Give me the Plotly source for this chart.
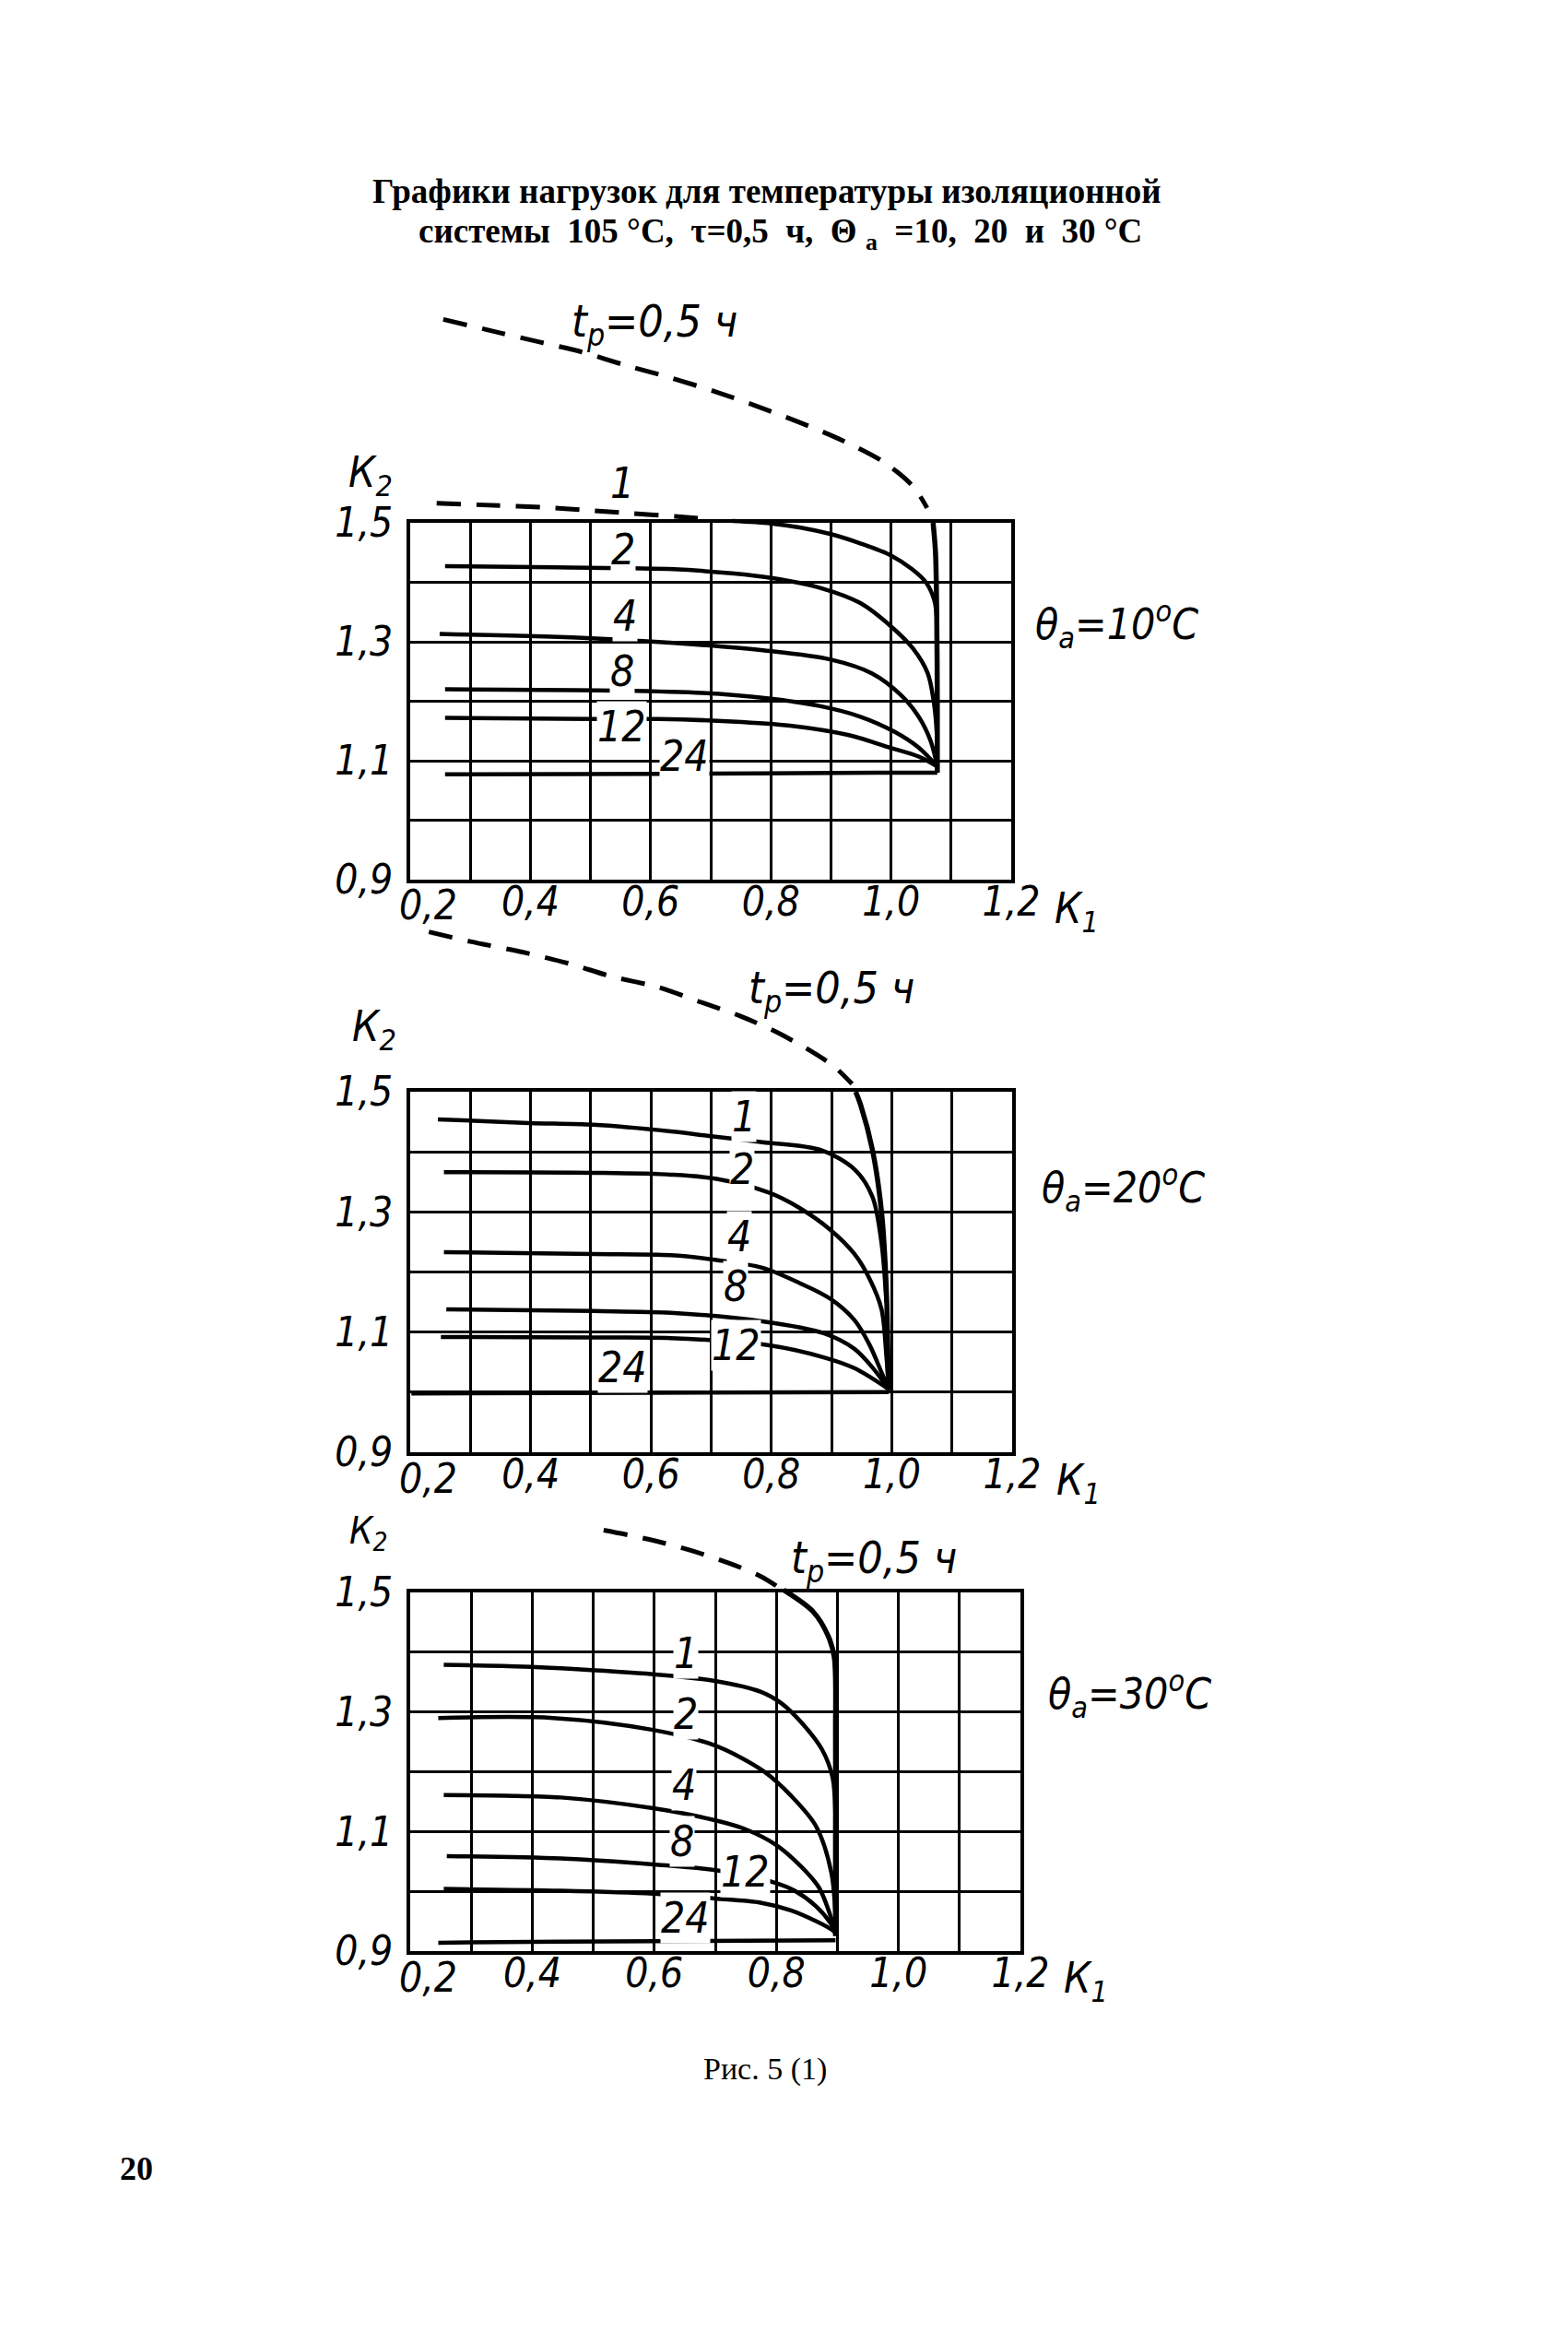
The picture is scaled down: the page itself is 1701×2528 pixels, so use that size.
import plotly.graph_objects as go

W, H = 1701, 2528

# ---------------- axis ticks ----------------
K1_GRID = [0.2, 0.3, 0.4, 0.5, 0.6, 0.7, 0.8, 0.9, 1.0, 1.1, 1.2]
K1_TEXT = ["0,2", "", "0,4", "", "0,6", "", "0,8", "", "1,0", "", "1,2"]
K2_GRID = [0.9, 1.0, 1.1, 1.2, 1.3, 1.4, 1.5]
K2_TEXT = ["0,9", "", "1,1", "", "1,3", "", "1,5"]

CURVE_NAMES = ["1", "2", "4", "8", "12", "24"]

# ---------------- panel 1 : θa = 10 °C ----------------
p1_tp_dash_k1 = [0.255, 0.347, 0.415, 0.483, 0.558, 0.633, 0.709, 0.777, 0.845, 0.920, 0.988, 1.036, 1.060]
p1_tp_dash_k2 = [1.842, 1.820, 1.804, 1.788, 1.765, 1.744, 1.720, 1.696, 1.670, 1.638, 1.602, 1.562, 1.525]
p1_tp_k1 = [1.070, 1.074, 1.076, 1.077, 1.077]
p1_tp_k2 = [1.500, 1.450, 1.350, 1.200, 1.080]
p1_c1_dash_k1 = [0.244, 0.347, 0.422, 0.497, 0.565, 0.640, 0.690]
p1_c1_dash_k2 = [1.533, 1.529, 1.526, 1.521, 1.516, 1.511, 1.507]
p1_c1_k1 = [0.736, 0.800, 0.850, 0.900, 0.950, 1.000, 1.035, 1.058, 1.072, 1.077]
p1_c1_k2 = [1.503, 1.499, 1.492, 1.481, 1.465, 1.445, 1.422, 1.400, 1.370, 1.330]
p1_c2_k1 = [0.258, 0.443, 0.638, 0.735, 0.803, 0.881, 0.949, 1.002, 1.037, 1.061, 1.071, 1.076, 1.077]
p1_c2_k2 = [1.427, 1.425, 1.422, 1.415, 1.407, 1.391, 1.365, 1.324, 1.288, 1.247, 1.200, 1.148, 1.090]
p1_c4_k1 = [0.249, 0.502, 0.638, 0.793, 0.900, 0.968, 1.017, 1.046, 1.066, 1.077]
p1_c4_k2 = [1.313, 1.306, 1.298, 1.285, 1.270, 1.247, 1.210, 1.174, 1.133, 1.090]
p1_c8_k1 = [0.258, 0.540, 0.686, 0.793, 0.881, 0.949, 1.007, 1.046, 1.077]
p1_c8_k2 = [1.220, 1.218, 1.214, 1.205, 1.192, 1.174, 1.148, 1.122, 1.090]
p1_c12_k1 = [0.258, 0.502, 0.613, 0.735, 0.832, 0.930, 0.998, 1.046, 1.077]
p1_c12_k2 = [1.172, 1.170, 1.170, 1.166, 1.159, 1.143, 1.122, 1.107, 1.090]
p1_c24_k1 = [0.258, 0.638, 0.978, 1.077]
p1_c24_k2 = [1.077, 1.078, 1.080, 1.080]
p1_lbl_k1 = [0.553, 0.555, 0.557, 0.552, 0.552, 0.656]
p1_lbl_k2 = [1.567, 1.455, 1.343, 1.250, 1.158, 1.107]

# ---------------- panel 2 : θa = 20 °C ----------------
p2_tp_dash_k1 = [0.231, 0.300, 0.388, 0.465, 0.534, 0.612, 0.680, 0.748, 0.807, 0.865, 0.904, 0.934]
p2_tp_dash_k2 = [1.766, 1.750, 1.732, 1.713, 1.692, 1.674, 1.650, 1.626, 1.600, 1.568, 1.542, 1.513]
p2_tp_k1 = [0.940, 0.948, 0.968, 0.983, 0.991, 0.994, 0.995]
p2_tp_k2 = [1.500, 1.479, 1.403, 1.300, 1.172, 1.040, 1.003]
p2_c1_k1 = [0.246, 0.397, 0.504, 0.633, 0.700, 0.785, 0.882, 0.938, 0.968, 0.983, 0.991]
p2_c1_k2 = [1.454, 1.448, 1.445, 1.434, 1.426, 1.416, 1.403, 1.371, 1.325, 1.248, 1.150]
p2_c2_k1 = [0.256, 0.504, 0.633, 0.709, 0.796, 0.846, 0.897, 0.938, 0.963, 0.983, 0.991, 0.995]
p2_c2_k2 = [1.366, 1.365, 1.362, 1.355, 1.332, 1.307, 1.271, 1.230, 1.189, 1.138, 1.061, 1.005]
p2_c4_k1 = [0.256, 0.504, 0.633, 0.709, 0.785, 0.846, 0.897, 0.938, 0.963, 0.983, 0.995]
p2_c4_k2 = [1.233, 1.230, 1.228, 1.220, 1.207, 1.182, 1.156, 1.120, 1.079, 1.033, 1.005]
p2_c8_k1 = [0.260, 0.504, 0.633, 0.785, 0.887, 0.938, 0.968, 0.995]
p2_c8_k2 = [1.138, 1.135, 1.132, 1.118, 1.098, 1.072, 1.041, 1.005]
p2_c12_k1 = [0.251, 0.500, 0.633, 0.796, 0.887, 0.938, 0.995]
p2_c12_k2 = [1.092, 1.091, 1.090, 1.078, 1.058, 1.040, 1.005]
p2_c24_k1 = [0.202, 0.600, 0.995]
p2_c24_k2 = [0.998, 0.999, 1.000]
p2_lbl_k1 = [0.755, 0.752, 0.747, 0.740, 0.742, 0.553]
p2_lbl_k2 = [1.458, 1.371, 1.259, 1.176, 1.078, 1.041]

# ---------------- panel 3 : θa = 30 °C ----------------
p3_tp_dash_k1 = [0.517, 0.590, 0.657, 0.725, 0.774, 0.803]
p3_tp_dash_k2 = [1.604, 1.589, 1.571, 1.548, 1.527, 1.509]
p3_tp_k1 = [0.812, 0.860, 0.885, 0.895, 0.897, 0.897, 0.897]
p3_tp_k2 = [1.504, 1.468, 1.427, 1.391, 1.263, 1.100, 0.925]
p3_c1_k1 = [0.255, 0.386, 0.447, 0.598, 0.699, 0.774, 0.809, 0.845, 0.875, 0.892, 0.897]
p3_c1_k2 = [1.379, 1.376, 1.373, 1.363, 1.352, 1.334, 1.314, 1.278, 1.237, 1.191, 1.120]
p3_c2_k1 = [0.246, 0.434, 0.598, 0.699, 0.779, 0.824, 0.865, 0.890, 0.897]
p3_c2_k2 = [1.290, 1.290, 1.270, 1.244, 1.201, 1.160, 1.109, 1.032, 0.955]
p3_c4_k1 = [0.255, 0.357, 0.447, 0.598, 0.699, 0.749, 0.799, 0.840, 0.870, 0.890, 0.897]
p3_c4_k2 = [1.161, 1.160, 1.157, 1.139, 1.119, 1.104, 1.078, 1.042, 1.006, 0.955, 0.930]
p3_c8_k1 = [0.260, 0.447, 0.598, 0.703, 0.799, 0.830, 0.865, 0.890, 0.897]
p3_c8_k2 = [1.059, 1.055, 1.045, 1.035, 1.014, 1.001, 0.975, 0.945, 0.930]
p3_c12_k1 = [0.255, 0.447, 0.598, 0.699, 0.774, 0.824, 0.865, 0.892, 0.897]
p3_c12_k2 = [1.004, 1.001, 0.996, 0.988, 0.981, 0.968, 0.950, 0.935, 0.930]
p3_c24_k1 = [0.246, 0.447, 0.897]
p3_c24_k2 = [0.914, 0.916, 0.918]
p3_lbl_k1 = [0.651, 0.651, 0.648, 0.646, 0.749, 0.651]
p3_lbl_k2 = [1.398, 1.296, 1.178, 1.083, 1.032, 0.955]

THETA_TEXT = ["10", "20", "30"]

# ---------------- text ----------------
TITLE_1 = "Графики нагрузок для температуры изоляционной"
TITLE_2 = "системы  105 °С,  τ=0,5  ч,  Θ <sub>a</sub>  =10,  20  и  30 °С"
CAPTION = "Рис. 5 (1)"
PAGE_NO = "20"

# ---------------- layout geometry (pixels) ----------------
BOXES = [  # x0, x1, y_top, y_bottom
    (437, 1089, 559, 946),
    (437, 1090, 1176, 1567),
    (437, 1099, 1719, 2108),
]
EXT = 0.45  # extra K2 span above the grid for the dashed curves

NARROW = "Liberation Sans Narrow, DejaVu Sans Condensed, sans-serif"
HAND = "DejaVu Sans Condensed, Liberation Sans Narrow, DejaVu Sans, sans-serif"
SERIF = "Liberation Serif, Times New Roman, serif"
INK = "black"

panels = [
    dict(tp_dash=(p1_tp_dash_k1, p1_tp_dash_k2), tp=(p1_tp_k1, p1_tp_k2),
         extra_dash=[(p1_c1_dash_k1, p1_c1_dash_k2)],
         curves=[(p1_c1_k1, p1_c1_k2), (p1_c2_k1, p1_c2_k2), (p1_c4_k1, p1_c4_k2),
                 (p1_c8_k1, p1_c8_k2), (p1_c12_k1, p1_c12_k2), (p1_c24_k1, p1_c24_k2)],
         lbl=(p1_lbl_k1, p1_lbl_k2)),
    dict(tp_dash=(p2_tp_dash_k1, p2_tp_dash_k2), tp=(p2_tp_k1, p2_tp_k2),
         extra_dash=[],
         curves=[(p2_c1_k1, p2_c1_k2), (p2_c2_k1, p2_c2_k2), (p2_c4_k1, p2_c4_k2),
                 (p2_c8_k1, p2_c8_k2), (p2_c12_k1, p2_c12_k2), (p2_c24_k1, p2_c24_k2)],
         lbl=(p2_lbl_k1, p2_lbl_k2)),
    dict(tp_dash=(p3_tp_dash_k1, p3_tp_dash_k2), tp=(p3_tp_k1, p3_tp_k2),
         extra_dash=[],
         curves=[(p3_c1_k1, p3_c1_k2), (p3_c2_k1, p3_c2_k2), (p3_c4_k1, p3_c4_k2),
                 (p3_c8_k1, p3_c8_k2), (p3_c12_k1, p3_c12_k2), (p3_c24_k1, p3_c24_k2)],
         lbl=(p3_lbl_k1, p3_lbl_k2)),
]

# label placement in pixels (text positions only)
TP_POS = [(702, 343), (894, 1066), (940, 1684)]
THETA_POS = [(1203, 670), (1210, 1280), (1217, 1829)]
K2_POS = [(394, 508), (398, 1108), (392, 1655)]
K2_SIZE = [46, 46, 40]
K1_POS = [(1160, 980), (1162, 1600), (1170, 2140)]
FIRST_TICK_OFFSET = (19, 28)  # the first K1 label sits right of its grid line


def px(x):
    return x / W


def py(y):
    return 1 - y / H


fig = go.Figure()
layout = dict(
    width=W, height=H, margin=dict(l=0, r=0, t=0, b=0),
    paper_bgcolor="white", plot_bgcolor="rgba(0,0,0,0)",
    showlegend=False, annotations=[],
)

CURVE_LINE = dict(color=INK, width=4.5, shape="spline", smoothing=0.9)
DASH_LINE = dict(color=INK, width=5, dash="26px,17px", shape="spline", smoothing=0.9)

for i, (box, p) in enumerate(zip(BOXES, panels)):
    x0, x1, yt, yb = box
    g = 2 * i + 1   # grid axes (K2 0.9..1.5)
    c = 2 * i + 2   # extended axes (same scale, reaching above the grid)
    ext_px = EXT / 0.6 * (yb - yt)
    xdom = [px(x0), px(x1)]
    tickfont = dict(family=NARROW, size=44, color=INK, style="italic")
    layout[f"xaxis{g}"] = dict(
        domain=xdom, range=[0.2, 1.2], anchor=f"y{g}",
        tickvals=K1_GRID, ticktext=[""] + K1_TEXT[1:], ticks="", tickfont=tickfont,
        ticklabelstandoff=-18,
        showgrid=True, gridcolor=INK, gridwidth=3, zeroline=False,
        showline=True, linecolor=INK, linewidth=4, mirror=True,
        fixedrange=True, automargin=False,
    )
    layout[f"yaxis{g}"] = dict(
        domain=[py(yb), py(yt)], range=[0.9, 1.5], anchor=f"x{g}",
        tickvals=K2_GRID, ticktext=K2_TEXT, ticks="", tickfont=tickfont,
        ticklabelstandoff=6,
        showgrid=True, gridcolor=INK, gridwidth=3, zeroline=False,
        showline=True, linecolor=INK, linewidth=4, mirror=True,
        fixedrange=True, automargin=False,
    )
    layout[f"xaxis{c}"] = dict(domain=xdom, range=[0.2, 1.2], anchor=f"y{c}",
                               visible=False, fixedrange=True)
    layout[f"yaxis{c}"] = dict(domain=[py(yb), py(yt - ext_px)], range=[0.9, 1.5 + EXT],
                               anchor=f"x{c}", visible=False, fixedrange=True)

    gx, gy = f"x{g}", f"y{g}"
    ex, ey = f"x{c}", f"y{c}"
    # curves lying inside the grid go on the grid axes
    for name, (k1, k2) in zip(CURVE_NAMES, p["curves"]):
        on_ext = max(k2) > 1.5
        fig.add_trace(go.Scatter(x=k1, y=k2, mode="lines", line=CURVE_LINE, name=name,
                                 xaxis=ex if on_ext else gx, yaxis=ey if on_ext else gy,
                                 hoverinfo="skip"))
    # t_p boundary and dashed parts reach above the grid
    fig.add_trace(go.Scatter(x=p["tp_dash"][0], y=p["tp_dash"][1], mode="lines",
                             line=DASH_LINE, xaxis=ex, yaxis=ey, hoverinfo="skip"))
    fig.add_trace(go.Scatter(x=p["tp"][0], y=p["tp"][1], mode="lines",
                             line=dict(CURVE_LINE, width=5.5), xaxis=ex, yaxis=ey, hoverinfo="skip"))
    for dk1, dk2 in p["extra_dash"]:
        fig.add_trace(go.Scatter(x=dk1, y=dk2, mode="lines", line=DASH_LINE,
                                 xaxis=ex, yaxis=ey, hoverinfo="skip"))

    # first K1 tick label, set slightly to the right as in the original
    layout["annotations"].append(dict(
        x=px(x0 + FIRST_TICK_OFFSET[0]), y=py(yb + FIRST_TICK_OFFSET[1]),
        xref="paper", yref="paper", showarrow=False, text=K1_TEXT[0],
        font=tickfont, xanchor="center", yanchor="middle"))

    # curve number labels
    for name, lx, ly in zip(CURVE_NAMES, p["lbl"][0], p["lbl"][1]):
        layout["annotations"].append(dict(
            x=lx, y=ly, xref=ex, yref=ey, text=name, showarrow=False,
            font=dict(family=NARROW, size=46, color=INK, style="italic"),
            bgcolor="white", borderpad=0,
        ))

    tx, ty = TP_POS[i]
    layout["annotations"].append(dict(
        x=px(tx), y=py(ty), xref="paper", yref="paper", showarrow=False,
        text="t<sub>р</sub>=0,5&nbsp;ч", font=dict(family=HAND, size=48, color=INK, style="italic"),
        xanchor="center", yanchor="middle"))
    thx, thy = THETA_POS[i]
    layout["annotations"].append(dict(
        x=px(thx), y=py(thy), xref="paper", yref="paper", showarrow=False,
        text=f"θ<sub>a</sub>={THETA_TEXT[i]}<sup>o</sup>C",
        font=dict(family=HAND, size=46, color=INK, style="italic"),
        xanchor="center", yanchor="middle"))
    kx, ky = K2_POS[i]
    layout["annotations"].append(dict(
        x=px(kx), y=py(ky), xref="paper", yref="paper", showarrow=False,
        text="К<sub>2</sub>", font=dict(family=NARROW, size=K2_SIZE[i], color=INK, style="italic"),
        xanchor="center", yanchor="middle"))
    kx, ky = K1_POS[i]
    layout["annotations"].append(dict(
        x=px(kx), y=py(ky), xref="paper", yref="paper", showarrow=False,
        text="К<sub>1</sub>", font=dict(family=NARROW, size=46, color=INK, style="italic"),
        xanchor="center", yanchor="middle"))

# title, caption, page number
layout["annotations"] += [
    dict(x=px(824), y=py(199), xref="paper", yref="paper", showarrow=False,
         text=f"<b>{TITLE_1}</b>", font=dict(family=SERIF, size=37, color=INK),
         xanchor="center", yanchor="middle"),
    dict(x=px(838), y=py(246), xref="paper", yref="paper", showarrow=False,
         text=f"<b>{TITLE_2}</b>", font=dict(family=SERIF, size=37, color=INK),
         xanchor="center", yanchor="middle"),
    dict(x=px(822), y=py(2236), xref="paper", yref="paper", showarrow=False,
         text=CAPTION, font=dict(family=SERIF, size=34, color=INK),
         xanchor="center", yanchor="middle"),
    dict(x=px(140), y=py(2344), xref="paper", yref="paper", showarrow=False,
         text=f"<b>{PAGE_NO}</b>", font=dict(family=SERIF, size=36, color=INK),
         xanchor="center", yanchor="middle"),
]

fig.update_layout(**layout)
fig.write_html("out.html")
